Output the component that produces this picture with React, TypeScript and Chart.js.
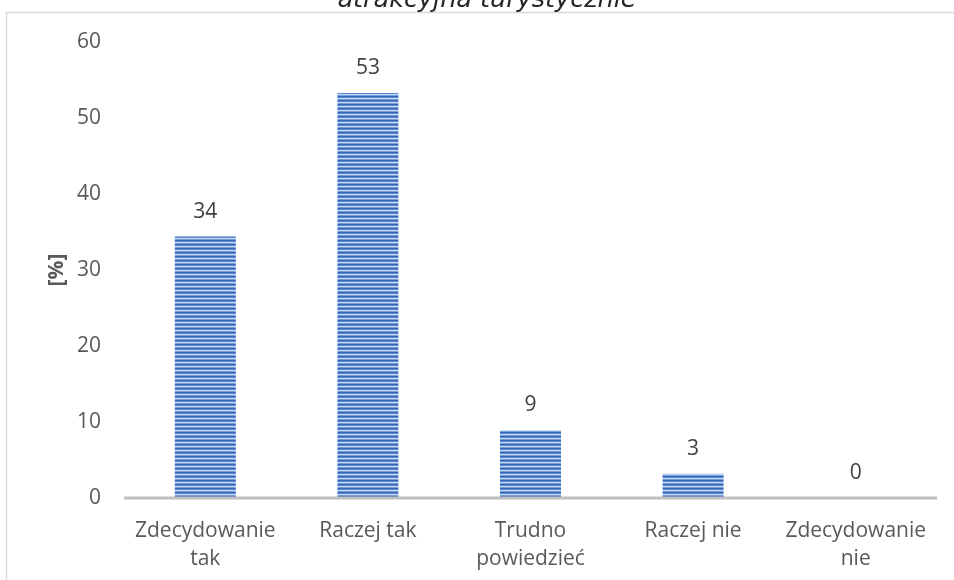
import { useEffect, useRef } from "react";
import { Chart, registerables } from "chart.js";

Chart.register(...registerables);

const categories: string[][] = [
  ["Zdecydowanie", "tak"],
  ["Raczej tak"],
  ["Trudno", "powiedzieć"],
  ["Raczej nie"],
  ["Zdecydowanie", "nie"],
];
const values = [34.4, 53.3, 8.9, 3.2, 0];
const valueLabels = ["34", "53", "9", "3", "0"];
const yMin = 0;
const yMax = 60;
const yStep = 10;
const titleText = "atrakcyjna turystycznie";
const yAxisTitle = "[%]";

const FONT = "'Open Sans', 'DejaVu Sans', sans-serif";

function makePattern(): CanvasPattern | string {
  const c = document.createElement("canvas");
  c.width = 4;
  c.height = 4;
  const g = c.getContext("2d");
  if (!g) return "#4472c4";
  const rows = ["#3164ba", "#5a8ad5", "#c9d8f1", "#739ddb"];
  rows.forEach((col, i) => {
    g.fillStyle = col;
    g.fillRect(0, i, 4, 1);
  });
  const p = g.createPattern(c, "repeat");
  return p || "#4472c4";
}

export default function App() {
  const ref = useRef<HTMLCanvasElement | null>(null);

  useEffect(() => {
    const canvas = ref.current;
    if (!canvas) return;

    const framePlugin = {
      id: "frame",
      beforeDraw(chart: any) {
        const ctx = chart.ctx;
        ctx.save();
        ctx.fillStyle = "#ffffff";
        ctx.fillRect(0, 0, chart.width, chart.height);
        ctx.strokeStyle = "#d9d9d9";
        ctx.lineWidth = 1.5;
        ctx.beginPath();
        ctx.moveTo(6.5, chart.height);
        ctx.lineTo(6.5, 12.5);
        ctx.lineTo(chart.width, 12.5);
        ctx.stroke();
        ctx.fillStyle = "#262626";
        ctx.font = "oblique 25.5px 'DejaVu Sans', sans-serif";
        ctx.textAlign = "center";
        ctx.textBaseline = "alphabetic";
        ctx.fillText(titleText, 487, 7);
        ctx.restore();
      },
      afterDatasetsDraw(chart: any) {
        const ctx = chart.ctx;
        const area = chart.chartArea;
        const y0 = chart.scales.y.getPixelForValue(0);
        ctx.save();
        ctx.fillStyle = "#bfbfbf";
        ctx.fillRect(area.left, y0 - 1.5, area.right - area.left, 3);
        const meta = chart.getDatasetMeta(0);
        ctx.fillStyle = "#404040";
        ctx.font = `21px ${FONT}`;
        ctx.textAlign = "center";
        ctx.textBaseline = "middle";
        meta.data.forEach((bar: any, i: number) => {
          ctx.fillText(valueLabels[i], bar.x, bar.y - 25);
        });
        ctx.restore();
      },
    };

    const chart = new Chart(canvas, {
      type: "bar",
      data: {
        labels: categories,
        datasets: [
          {
            data: values,
            backgroundColor: makePattern() as any,
            borderWidth: 0,
            categoryPercentage: 1,
            barPercentage: 0.375,
          },
        ],
      },
      options: {
        animation: false,
        responsive: false,
        devicePixelRatio: 1,
        layout: { padding: { top: 42, right: 17, left: 0, bottom: 0 } },
        plugins: {
          legend: { display: false },
          tooltip: { enabled: false },
          title: { display: false },
        },
        scales: {
          x: {
            grid: { display: false, drawTicks: false },
            border: { display: false },
            ticks: {
              color: "#595959",
              font: { family: FONT, size: 21, lineHeight: 1.32 },
              padding: 19,
              maxRotation: 0,
              autoSkip: false,
            },
            afterFit(scale: any) {
              scale.height = 82;
            },
          },
          y: {
            min: yMin,
            max: yMax,
            grid: { display: false, drawTicks: false },
            border: { display: false },
            ticks: {
              stepSize: yStep,
              color: "#595959",
              font: { family: FONT, size: 21 },
              padding: 23,
            },
            title: {
              display: true,
              text: yAxisTitle,
              color: "#595959",
              font: { family: FONT, size: 21, weight: "bold", lineHeight: 1.2 },
              padding: { top: 44, bottom: 0 },
            },
            afterFit(scale: any) {
              scale.width = 124;
            },
          },
        },
      },
      plugins: [framePlugin],
    });

    return () => chart.destroy();
  }, []);

  return (
    <div style={{ position: "absolute", left: 0, top: 0, width: 954, height: 580 }}>
      <canvas ref={ref} width={954} height={580} style={{ display: "block" }} />
    </div>
  );
}
